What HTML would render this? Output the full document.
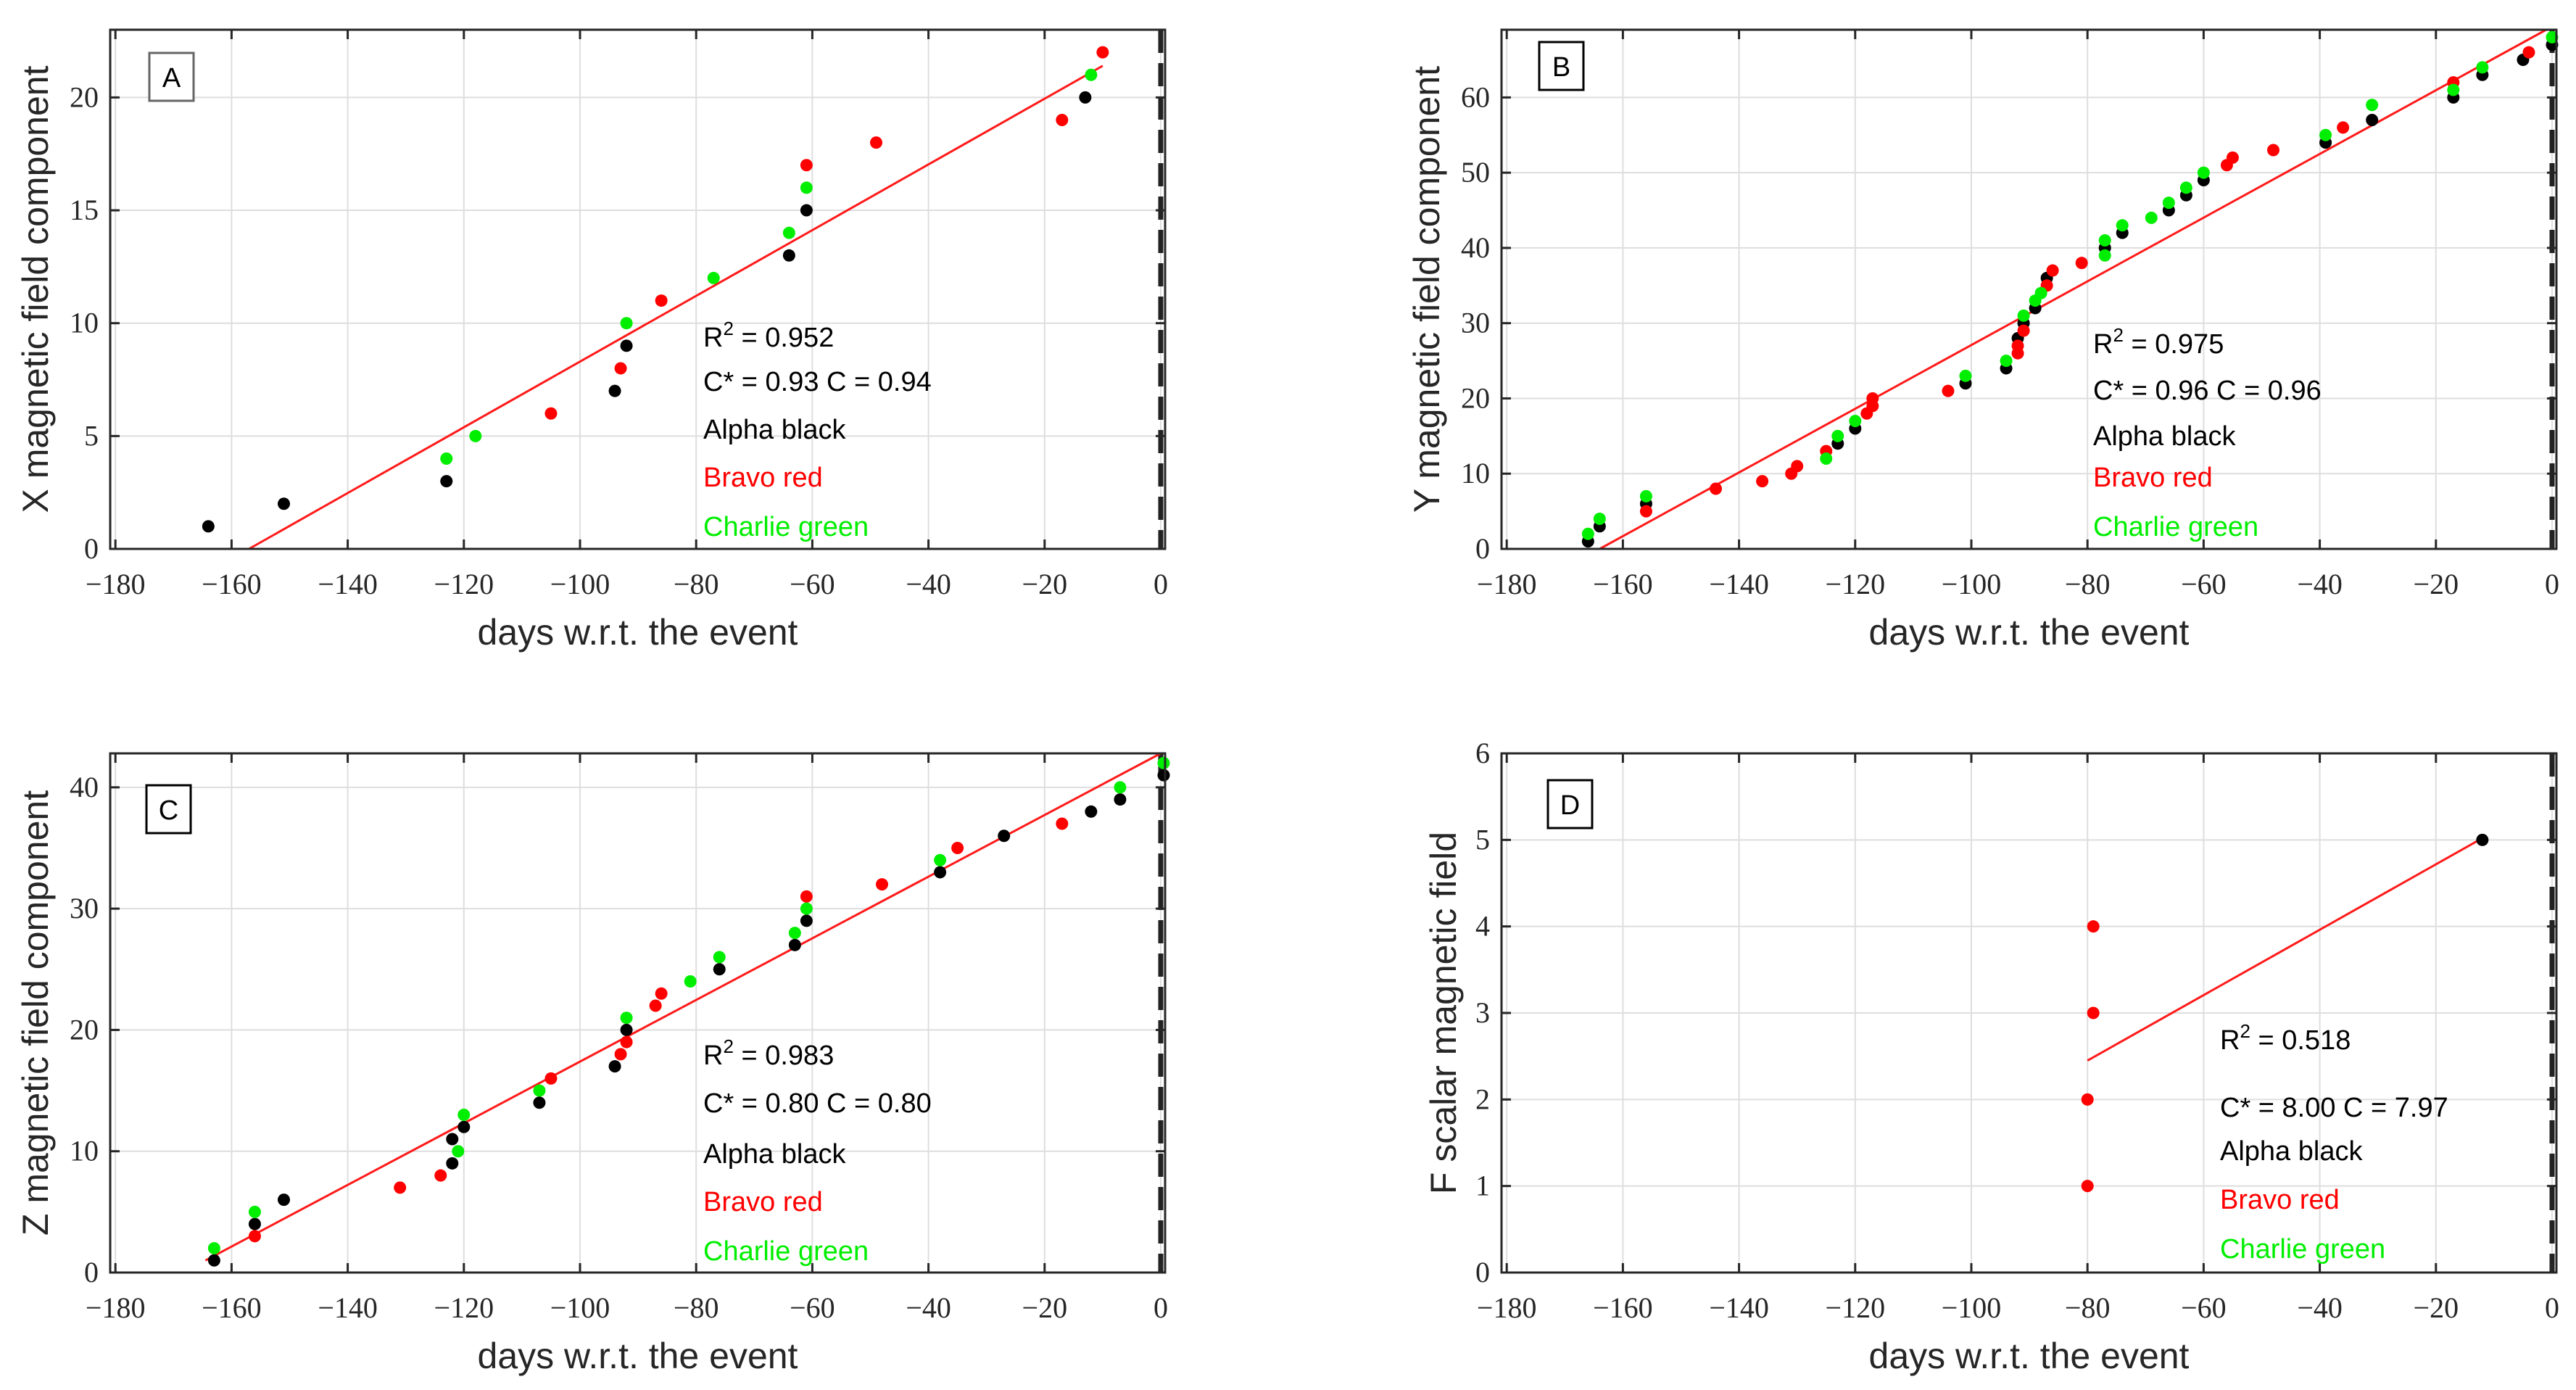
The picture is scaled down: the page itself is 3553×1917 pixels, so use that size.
<!DOCTYPE html>
<html><head><meta charset="utf-8">
<style>
html,body{margin:0;padding:0;background:#fff;}
svg{display:block;}
.tick{font-family:"Liberation Serif",serif;font-size:40px;fill:#262626;}
.ttl{font-family:"Liberation Sans",sans-serif;font-size:50px;fill:#262626;}
.ann{font-family:"Liberation Sans",sans-serif;font-size:38px;}
</style></head>
<body>
<svg id="fig" width="3553" height="1917" viewBox="0 0 3553 1917" xmlns="http://www.w3.org/2000/svg"></svg>
<script>
// ---- Panel A data ----
const aBlackX=[-164,-151,-123,-94,-92,-64,-61,-13];
const aBlackY=[1,2,3,7,9,13,15,20];
const aRedX=[-105,-93,-86,-61,-49,-17,-10];
const aRedY=[6,8,11,17,18,19,22];
const aGreenX=[-123,-118,-92,-77,-64,-61,-12];
const aGreenY=[4,5,10,12,14,16,21];
const aFitX=[-157,-10];
const aFitY=[0,21.4];
// ---- Panel B data ----
const bBlackX=[-166,-164,-156,-123,-120,-101,-94,-92,-91,-89,-87,-77,-74,-66,-63,-60,-39,-31,-17,-12,-5,0];
const bBlackY=[1,3,6,14,16,22,24,28,30,32,36,40,42,45,47,49,54,57,60,63,65,67];
const bRedX=[-156,-144,-136,-131,-130,-125,-118,-117,-117,-104,-92,-92,-91,-87,-86,-81,-56,-55,-48,-36,-17,-4];
const bRedY=[5,8,9,10,11,13,18,19,20,21,26,27,29,35,37,38,51,52,53,56,62,66];
const bGreenX=[-166,-164,-156,-125,-123,-120,-101,-94,-91,-89,-88,-77,-77,-74,-69,-66,-63,-60,-39,-31,-17,-12,0];
const bGreenY=[2,4,7,12,15,17,23,25,31,33,34,39,41,43,44,46,48,50,55,59,61,64,68];
const bFitX=[-164,-1];
const bFitY=[0,69];
// ---- Panel C data ----
const cBlackX=[-163,-156,-151,-122,-122,-120,-107,-94,-92,-76,-63,-61,-38,-27,-12,-7,0.5];
const cBlackY=[1,4,6,9,11,12,14,17,20,25,27,29,33,36,38,39,41];
const cRedX=[-156,-131,-124,-105,-93,-92,-87,-86,-61,-48,-35,-17];
const cRedY=[3,7,8,16,18,19,22,23,31,32,35,37];
const cGreenX=[-163,-156,-121,-120,-107,-92,-81,-76,-63,-61,-38,-7,0.5];
const cGreenY=[2,5,10,13,15,21,24,26,28,30,34,40,42];
const cFitX=[-164.5,0];
const cFitY=[1,42.8];
// ---- Panel D data ----
const dBlackX=[-12];
const dBlackY=[5];
const dRedX=[-80,-80,-79,-79];
const dRedY=[1,2,3,4];
const dFitX=[-80,-12];
const dFitY=[2.45,5.02];
// ---- tick labels ----
const xTicks=[-180,-160,-140,-120,-100,-80,-60,-40,-20,0];
const aYTicks=[0,5,10,15,20];
const bYTicks=[0,10,20,30,40,50,60];
const cYTicks=[0,10,20,30,40];
const dYTicks=[0,1,2,3,4,5,6];

const NS="http://www.w3.org/2000/svg";
const fig=document.getElementById('fig');
function mk(tag,attrs,parent){const e=document.createElementNS(NS,tag);for(const k in attrs)e.setAttribute(k,attrs[k]);(parent||fig).appendChild(e);return e;}

function panel(o){
  const g=mk('g',{});
  
  
  const L=o.L,R=L+1455,T=o.T,B=T+716;
  const x0=R-6, ux=8.01;
  const sx=v=>x0+v*ux;
  const sy=v=>B-(v-o.ymin)/(o.ymax-o.ymin)*(B-T);
  const grid=mk('g',{},g);
  
  
  xTicks.forEach(t=>{mk('line',{x1:sx(t),x2:sx(t),y1:T,y2:B,stroke:'#dedede','stroke-width':2},grid);});
  o.yTicks.forEach(t=>{mk('line',{x1:L,x2:R,y1:sy(t),y2:sy(t),stroke:'#dedede','stroke-width':2},grid);});
  const ev=mk('line',{x1:sx(0),x2:sx(0),y1:T,y2:B,stroke:'#222','stroke-width':7,'stroke-dasharray':'32 14'},g);
  
  
  xTicks.forEach(t=>{
    mk('line',{x1:sx(t),x2:sx(t),y1:B,y2:B-13,stroke:'#262626','stroke-width':3},g);
    mk('line',{x1:sx(t),x2:sx(t),y1:T,y2:T+13,stroke:'#262626','stroke-width':3},g);
    const tx=mk('text',{x:sx(t),y:B+62,'text-anchor':'middle',class:'tick'},g);
    tx.textContent=(t<0?'\u2212'+(-t):t);
    
    
  });
  o.yTicks.forEach(t=>{
    mk('line',{x1:L,x2:L+13,y1:sy(t),y2:sy(t),stroke:'#262626','stroke-width':3},g);
    mk('line',{x1:R,x2:R-13,y1:sy(t),y2:sy(t),stroke:'#262626','stroke-width':3},g);
    const ty=mk('text',{x:L-16,y:sy(t)+13,'text-anchor':'end',class:'tick'},g);
    ty.textContent=t;
    
    
  });
  const fl=mk('line',{x1:sx(o.fitX[0]),y1:sy(o.fitY[0]),x2:sx(o.fitX[1]),y2:sy(o.fitY[1]),stroke:'#ff1a1a','stroke-width':3},g);
  
  
  const series=[['black',o.bx,o.by,'#000'],['red',o.rx,o.ry,'#ff0000'],['green',o.gx,o.gy,'#00ee00']];
  series.forEach(s=>{
    if(!s[1])return;
    s[1].forEach((xv,i)=>{
      const c=mk('circle',{cx:sx(xv),cy:sy(s[2][i]),r:8.5,fill:s[3]},g);
      
      
    });
  });
  const bx=mk('rect',{x:L,y:T,width:R-L,height:B-T,fill:'none',stroke:'#262626','stroke-width':3},g);
  
  
  const lb=mk('rect',{x:o.lbx,y:o.lby,width:61,height:66,fill:'#fff',stroke:o.id==='A'?'#666':'#000','stroke-width':3},g);
  
  
  const lt=mk('text',{x:o.lbx+30.5,y:o.lby+47,'text-anchor':'middle',class:'ann',fill:'#000'},g);
  lt.textContent=o.id;
  
  
  const lines=[[o.r2,'#000','r2-text'],[o.cs,'#000','c-text'],['Alpha black','#000','legend-alpha'],['Bravo red','#ff0000','legend-bravo'],['Charlie green','#00ee00','legend-charlie']];
  lines.forEach((ln,i)=>{
    const t=mk('text',{x:o.ax,y:o.ay[i],class:'ann',fill:ln[1]},g);
    if(i===0){t.innerHTML='R<tspan dy="-16" font-size="26">2</tspan><tspan dy="16"> = '+ln[0]+'</tspan>';}
    else t.textContent=ln[0];
    
    
  });
  const xt=mk('text',{x:(L+R)/2,y:B+132,'text-anchor':'middle',class:'ttl'},g);
  xt.textContent='days w.r.t. the event';
  
  
  const yc=(T+B)/2;
  const yt=mk('text',{x:o.ytx,y:yc,'text-anchor':'middle',class:'ttl',transform:'rotate(-90 '+o.ytx+' '+yc+')'},g);
  yt.textContent=o.ytitle;
  
  
}

panel({id:'A',L:152,T:41,ymin:0,ymax:23,yTicks:aYTicks,bx:aBlackX,by:aBlackY,rx:aRedX,ry:aRedY,gx:aGreenX,gy:aGreenY,fitX:aFitX,fitY:aFitY,
  lbx:206,lby:73,r2:'0.952',cs:'C* = 0.93 C = 0.94',ax:970,ay:[478,539,605,671,739],ytx:66,ytitle:'X magnetic field component'});
panel({id:'B',L:2071,T:41,ymin:0,ymax:69,yTicks:bYTicks,bx:bBlackX,by:bBlackY,rx:bRedX,ry:bRedY,gx:bGreenX,gy:bGreenY,fitX:bFitX,fitY:bFitY,
  lbx:2123,lby:58,r2:'0.975',cs:'C* = 0.96 C = 0.96',ax:2887,ay:[487,551,614,671,739],ytx:1985,ytitle:'Y magnetic field component'});
panel({id:'C',L:152,T:1039,ymin:0,ymax:42.8,yTicks:cYTicks,bx:cBlackX,by:cBlackY,rx:cRedX,ry:cRedY,gx:cGreenX,gy:cGreenY,fitX:cFitX,fitY:cFitY,
  lbx:202,lby:1083,r2:'0.983',cs:'C* = 0.80 C = 0.80',ax:970,ay:[1468,1534,1604,1670,1738],ytx:66,ytitle:'Z magnetic field component'});
panel({id:'D',L:2071,T:1039,ymin:0,ymax:6,yTicks:dYTicks,bx:dBlackX,by:dBlackY,rx:dRedX,ry:dRedY,gx:null,gy:null,fitX:dFitX,fitY:dFitY,
  lbx:2135,lby:1076,r2:'0.518',cs:'C* = 8.00 C = 7.97',ax:3062,ay:[1447,1540,1600,1667,1735],ytx:2008,ytitle:'F scalar magnetic field'});
</script>
</body></html>
